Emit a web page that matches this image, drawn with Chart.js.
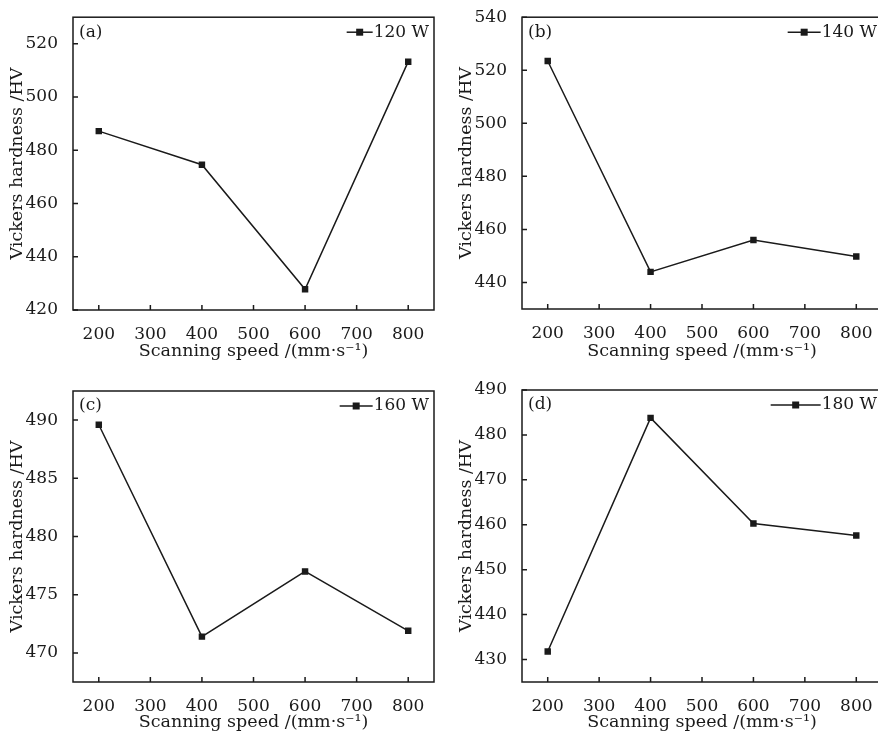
<!DOCTYPE html>
<html>
<head>
<meta charset="utf-8">
<script src="https://cdn.jsdelivr.net/npm/chart.js@4.4.1/dist/chart.umd.min.js"></script>
<style>
  html, body { margin: 0; padding: 0; background: #fff; }
  body { width: 878px; height: 731px; position: relative; overflow: hidden; }
  .panel { position: absolute; }
</style>
</head>
<body>
<div class="panel" style="left:0px;top:0px"><canvas id="chartA" width="440" height="360"></canvas></div>
<div class="panel" style="left:449px;top:0px"><canvas id="chartB" width="439" height="360"></canvas></div>
<div class="panel" style="left:0px;top:360px"><canvas id="chartC" width="440" height="371"></canvas></div>
<div class="panel" style="left:449px;top:360px"><canvas id="chartD" width="439" height="371"></canvas></div>
<script>
// data
const speeds = [200, 400, 600, 800];
const hv120 = [487.2, 474.6, 427.8, 513.3];
const hv140 = [523.5, 444.0, 456.0, 449.8];
const hv160 = [489.6, 471.4, 477.0, 471.9];
const hv180 = [431.8, 483.8, 460.3, 457.6];

// tick labels
const xTicks = [200, 300, 400, 500, 600, 700, 800];
const yTicksA = [420, 440, 460, 480, 500, 520];
const yTicksB = [440, 460, 480, 500, 520, 540];
const yTicksC = [470, 475, 480, 485, 490];
const yTicksD = [430, 440, 450, 460, 470, 480, 490];

const FONT = 'DejaVu Serif';
const INK = '#1a1a1a';

// frame, inner ticks, panel tag and legend
const framePlugin = {
  id: 'frame',
  afterDraw(chart, args, opts) {
    const ctx = chart.ctx;
    const a = chart.chartArea;
    const xs = chart.scales.x, ys = chart.scales.y;
    ctx.save();
    ctx.strokeStyle = INK;
    ctx.lineWidth = 1.5;
    ctx.strokeRect(a.left, a.top, a.right - a.left, a.bottom - a.top);
    ctx.beginPath();
    xs.ticks.forEach(t => {
      const px = xs.getPixelForValue(t.value);
      ctx.moveTo(px, a.bottom);
      ctx.lineTo(px, a.bottom - 5);
    });
    ys.ticks.forEach(t => {
      const py = ys.getPixelForValue(t.value);
      ctx.moveTo(a.left, py);
      ctx.lineTo(a.left + 5, py);
    });
    ctx.stroke();

    ctx.fillStyle = INK;
    ctx.font = '17px "' + FONT + '"';
    ctx.textBaseline = 'middle';
    ctx.textAlign = 'left';
    ctx.fillText(opts.tag, a.left + 6, a.top + 15);

    // legend
    const label = chart.data.datasets[0].label;
    ctx.textAlign = 'right';
    const tx = a.right - 5;
    const ty = a.top + 15;
    ctx.fillText(label, tx, ty);
    const w = ctx.measureText(label).width;
    const lineEnd = tx - w - 1;
    const lineStart = lineEnd - opts.legendLen;
    ctx.beginPath();
    ctx.moveTo(lineStart, ty);
    ctx.lineTo(lineEnd, ty);
    ctx.lineWidth = 1.5;
    ctx.stroke();
    const mx = (lineStart + lineEnd) / 2;
    ctx.fillRect(mx - 3.5, ty - 3.5, 7, 7);
    ctx.restore();
  }
};

function makeChart(id, label, tag, values, yTicks, yMin, yMax, padTop, xAxisH, legendLen) {
  return new Chart(document.getElementById(id), {
    type: 'line',
    data: {
      datasets: [{
        label: label,
        data: speeds.map((s, i) => ({x: s, y: values[i]})),
        borderColor: INK,
        backgroundColor: INK,
        borderWidth: 1.5,
        pointStyle: 'rect',
        pointRadius: 3.5,
        pointHoverRadius: 3.5,
        fill: false,
        tension: 0
      }]
    },
    options: {
      responsive: false,
      animation: false,
      layout: { padding: { top: padTop, right: 6, left: 0, bottom: 0 } },
      plugins: {
        legend: { display: false },
        tooltip: { enabled: false },
        frame: { tag: tag, legendLen: legendLen }
      },
      scales: {
        x: {
          type: 'linear',
          min: 150,
          max: 850,
          afterBuildTicks: s => { s.ticks = xTicks.map(v => ({value: v})); },
          afterFit: s => { s.height = xAxisH; },
          grid: { display: false },
          border: { display: false },
          ticks: { color: INK, padding: 6, font: { family: FONT, size: 17 } },
          title: {
            display: true,
            text: 'Scanning speed /(mm·s⁻¹)',
            color: INK,
            padding: { top: 0, bottom: 0 },
            font: { family: FONT, size: 17.5, lineHeight: 1 }
          }
        },
        y: {
          min: yMin,
          max: yMax,
          afterBuildTicks: s => { s.ticks = yTicks.map(v => ({value: v})); },
          afterFit: s => { s.width = 73; },
          ticks: { color: INK, padding: 7, font: { family: FONT, size: 17 } },
          grid: { display: false },
          border: { display: false },
          title: {
            display: true,
            text: 'Vickers hardness /HV',
            color: INK,
            padding: { top: 9, bottom: 0 },
            font: { family: FONT, size: 17.5, lineHeight: 1 }
          }
        }
      }
    },
    plugins: [framePlugin]
  });
}

makeChart('chartA', '120 W', '(a)', hv120, yTicksA, 420, 530, 17, 50, 26);
makeChart('chartB', '140 W', '(b)', hv140, yTicksB, 430, 540, 17, 51, 33);
makeChart('chartC', '160 W', '(c)', hv160, yTicksC, 467.5, 492.5, 31, 49, 33);
makeChart('chartD', '180 W', '(d)', hv180, yTicksD, 425, 490, 30, 49, 50);
</script>
</body>
</html>
